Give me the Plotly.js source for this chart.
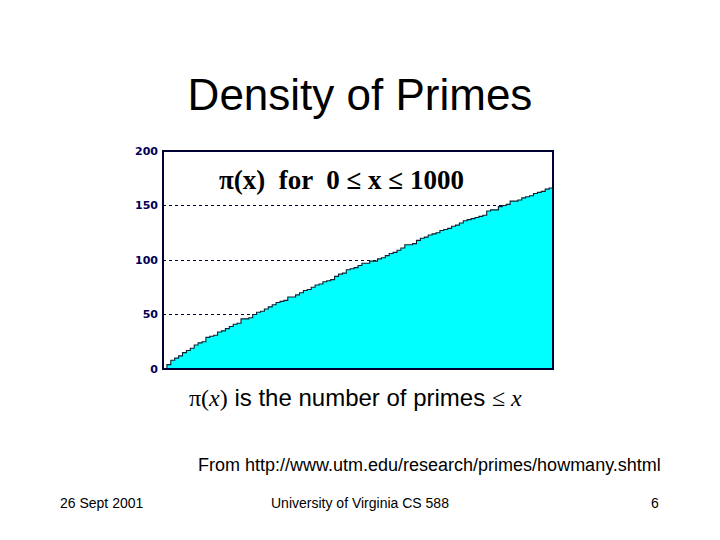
<!DOCTYPE html>
<html>
<head>
<meta charset="utf-8">
<script src="https://cdn.plot.ly/plotly-3.0.1.min.js"></script>
<style>html,body{margin:0;padding:0;background:#fff;}#chart{width:720px;height:540px;}</style>
</head>
<body>
<div id="chart"></div>
<script>
// x sample points and prime-counting values pi(x) read for the chart
const xValues = [0,10,20,30,40,50,60,70,80,90,100,110,120,130,140,150,160,170,180,190,200,
  210,220,230,240,250,260,270,280,290,300,310,320,330,340,350,360,370,380,390,400,
  410,420,430,440,450,460,470,480,490,500,510,520,530,540,550,560,570,580,590,600,
  610,620,630,640,650,660,670,680,690,700,710,720,730,740,750,760,770,780,790,800,
  810,820,830,840,850,860,870,880,890,900,910,920,930,940,950,960,970,980,990,1000];
const piValues = [0,4,8,10,12,15,17,19,22,24,25,29,30,31,34,35,37,39,41,42,46,
  46,47,50,52,53,55,57,59,61,62,63,66,66,68,70,72,73,75,77,78,
  80,81,82,85,87,88,91,92,93,95,97,97,99,99,101,102,104,106,107,109,
  111,114,114,115,118,120,121,123,124,125,127,128,129,131,132,134,136,137,138,139,
  140,141,145,146,146,149,150,151,154,154,155,157,158,159,161,162,163,165,166,168];
const yTickVals = [0,50,100,150,200];
const yTickText = ["0","50","100","150","200"];

const L = 163, R = 553, T = 151, B = 369;
const px = v => (v - L) / (R - L);
const py = v => (B - v) / (B - T);

const trace = {
  x: xValues, y: piValues, type: 'scatter', mode: 'lines',
  line: {shape: 'hv', color: '#102030', width: 1.1},
  fill: 'tozeroy', fillcolor: '#00FFFF', hoverinfo: 'skip'
};

const layout = {
  width: 720, height: 540,
  paper_bgcolor: '#ffffff', plot_bgcolor: '#ffffff',
  margin: {l: L, r: 720 - R, t: T, b: 540 - B},
  showlegend: false,
  title: {text: 'Density of Primes', x: 0.5, xanchor: 'center', y: 1 - 95/540, yanchor: 'middle',
    font: {family: 'Liberation Sans, Arial, sans-serif', size: 44, color: '#000000'}},
  xaxis: {range: [0, 1000], showgrid: false, zeroline: false, showticklabels: false, ticks: '', showline: false, fixedrange: true},
  yaxis: {range: [0, 200], tickvals: yTickVals, ticktext: yTickText, ticks: '', showline: false, zeroline: false,
    showgrid: true, gridcolor: '#000033', griddash: 'dot', gridwidth: 1,
    tickfont: {family: 'DejaVu Sans, Verdana, sans-serif', size: 11, color: '#000055', weight: 'bold'},
    ticklabelstandoff: 4, fixedrange: true},
  shapes: [
    {type: 'rect', xref: 'paper', yref: 'paper', x0: 0, x1: 1, y0: 0, y1: 1,
     line: {color: '#000033', width: 2}, fillcolor: 'rgba(0,0,0,0)', layer: 'above'}
  ],
  annotations: [
    {xref: 'paper', yref: 'paper', x: px(341), y: py(180), xanchor: 'center', yanchor: 'middle', showarrow: false,
     text: 'π(x)  for  0 ≤ x ≤ 1000',
     font: {family: 'Liberation Serif, Times New Roman, serif', size: 27, color: '#000000', weight: 'bold'}},
    {xref: 'paper', yref: 'paper', x: px(355), y: py(397), xanchor: 'center', yanchor: 'middle', showarrow: false,
     text: '<span style="font-family:Liberation Serif">π(<i>x</i>)</span> is the number of primes <span style="font-family:Liberation Serif">≤ <i>x</i></span>',
     font: {family: 'Liberation Sans, Arial, sans-serif', size: 24, color: '#000000'}},
    {xref: 'paper', yref: 'paper', x: px(429), y: py(465), xanchor: 'center', yanchor: 'middle', showarrow: false,
     text: 'From http://www.utm.edu/research/primes/howmany.shtml',
     font: {family: 'Liberation Sans, Arial, sans-serif', size: 18, color: '#000000'}},
    {xref: 'paper', yref: 'paper', x: px(102), y: py(503), xanchor: 'center', yanchor: 'middle', showarrow: false,
     text: '26 Sept 2001',
     font: {family: 'Liberation Sans, Arial, sans-serif', size: 14, color: '#000000'}},
    {xref: 'paper', yref: 'paper', x: px(360), y: py(503), xanchor: 'center', yanchor: 'middle', showarrow: false,
     text: 'University of Virginia CS 588',
     font: {family: 'Liberation Sans, Arial, sans-serif', size: 14, color: '#000000'}},
    {xref: 'paper', yref: 'paper', x: px(655), y: py(503), xanchor: 'center', yanchor: 'middle', showarrow: false,
     text: '6',
     font: {family: 'Liberation Sans, Arial, sans-serif', size: 14, color: '#000000'}}
  ]
};

Plotly.newPlot('chart', [trace], layout, {staticPlot: true, displayModeBar: false});
</script>
</body>
</html>
